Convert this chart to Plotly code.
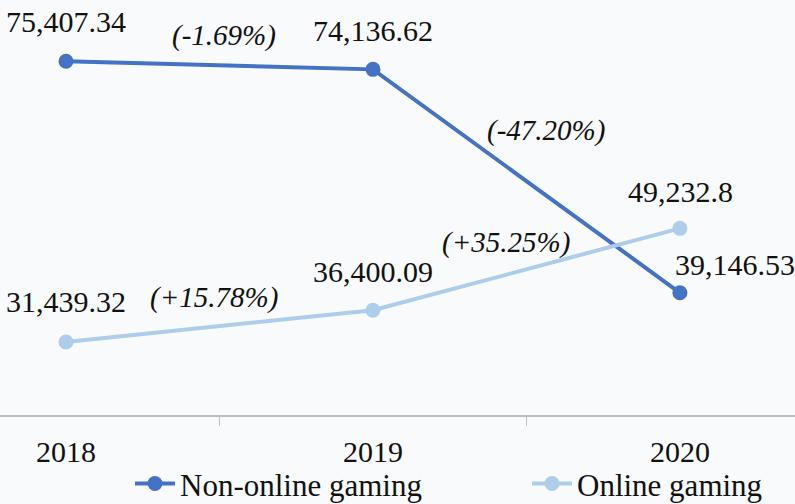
import plotly.graph_objects as go

years = ["2018", "2019", "2020"]
non_online = [75407.34, 74136.62, 39146.53]
online = [31439.32, 36400.09, 49232.8]
non_online_labels = ["75,407.34", "74,136.62", "39,146.53"]
online_labels = ["31,439.32", "36,400.09", "49,232.8"]
non_online_changes = ["(-1.69%)", "(-47.20%)"]
online_changes = ["(+15.78%)", "(+35.25%)"]

DARK = "#4472C4"
LIGHT = "#ADCDEB"
FONT = "'Liberation Serif', 'DejaVu Serif', serif"
BG = "#F9FAFC"

fig = go.Figure()
fig.add_trace(go.Scatter(
    x=years, y=non_online, name="Non-online gaming", mode="lines+markers",
    line=dict(color=DARK, width=4), marker=dict(color=DARK, size=15), legend="legend",
))
fig.add_trace(go.Scatter(
    x=years, y=online, name="Online gaming", mode="lines+markers",
    line=dict(color=LIGHT, width=4), marker=dict(color=LIGHT, size=15), legend="legend2",
))

annotations = []
# value labels
nl_shift = [(0, 40), (0, 39), (55, 28)]
ol_shift = [(0, 40), (0, 39), (1, 37)]
for i in range(len(years)):
    annotations.append(dict(x=i, y=non_online[i], text=non_online_labels[i], showarrow=False,
                            xshift=nl_shift[i][0], yshift=nl_shift[i][1],
                            font=dict(family=FONT, size=30, color="#111")))
    annotations.append(dict(x=i, y=online[i], text=online_labels[i], showarrow=False,
                            xshift=ol_shift[i][0], yshift=ol_shift[i][1],
                            font=dict(family=FONT, size=30, color="#111")))
# change labels at segment midpoints
nl_cshift = [(5, 30), (20, 51)]
ol_cshift = [(-5, 29), (-20, 27)]
for i in range(2):
    annotations.append(dict(x=i + 0.5, y=(non_online[i] + non_online[i + 1]) / 2,
                            text="<i>" + non_online_changes[i] + "</i>", showarrow=False,
                            xshift=nl_cshift[i][0], yshift=nl_cshift[i][1],
                            font=dict(family=FONT, size=29, color="#111")))
    annotations.append(dict(x=i + 0.5, y=(online[i] + online[i + 1]) / 2,
                            text="<i>" + online_changes[i] + "</i>", showarrow=False,
                            xshift=ol_cshift[i][0], yshift=ol_cshift[i][1],
                            font=dict(family=FONT, size=29, color="#111")))

legend_common = dict(orientation="h", xanchor="left", y=-0.166, yanchor="middle",
                     font=dict(family=FONT, size=31, color="#111"),
                     bgcolor="rgba(0,0,0,0)", itemwidth=40)

fig.update_layout(
    width=795, height=504,
    margin=dict(l=0, r=0, t=0, b=89, autoexpand=False),
    paper_bgcolor=BG, plot_bgcolor=BG,
    font=dict(family=FONT, size=30, color="#111"),
    showlegend=True,
    legend=dict(x=130 / 795, **legend_common),
    legend2=dict(x=527 / 795, **legend_common),
    annotations=annotations,
)
fig.update_xaxes(type="category", categoryorder="array", categoryarray=years,
                 range=[-0.215, 2.375], showgrid=False, zeroline=False,
                 showline=True, linecolor="#BFBFBF", linewidth=1.5,
                 ticks="outside", tickson="boundaries", ticklen=9, tickcolor="#BFBFBF",
                 ticklabelstandoff=9,
                 tickfont=dict(family=FONT, size=30, color="#111"))
fig.update_yaxes(range=[20000, 85000], visible=False, showgrid=False, zeroline=False)

fig.write_html("out.html", config={"displayModeBar": False})

with open("out.html", encoding="utf-8") as f:
    html = f.read()
html = html.replace("<body>", '<body style="margin:0;padding:0;">', 1)
html = html.replace("<head>", "<head><style>html,body{margin:0;padding:0;overflow:hidden;}</style>", 1)
with open("out.html", "w", encoding="utf-8") as f:
    f.write(html)
